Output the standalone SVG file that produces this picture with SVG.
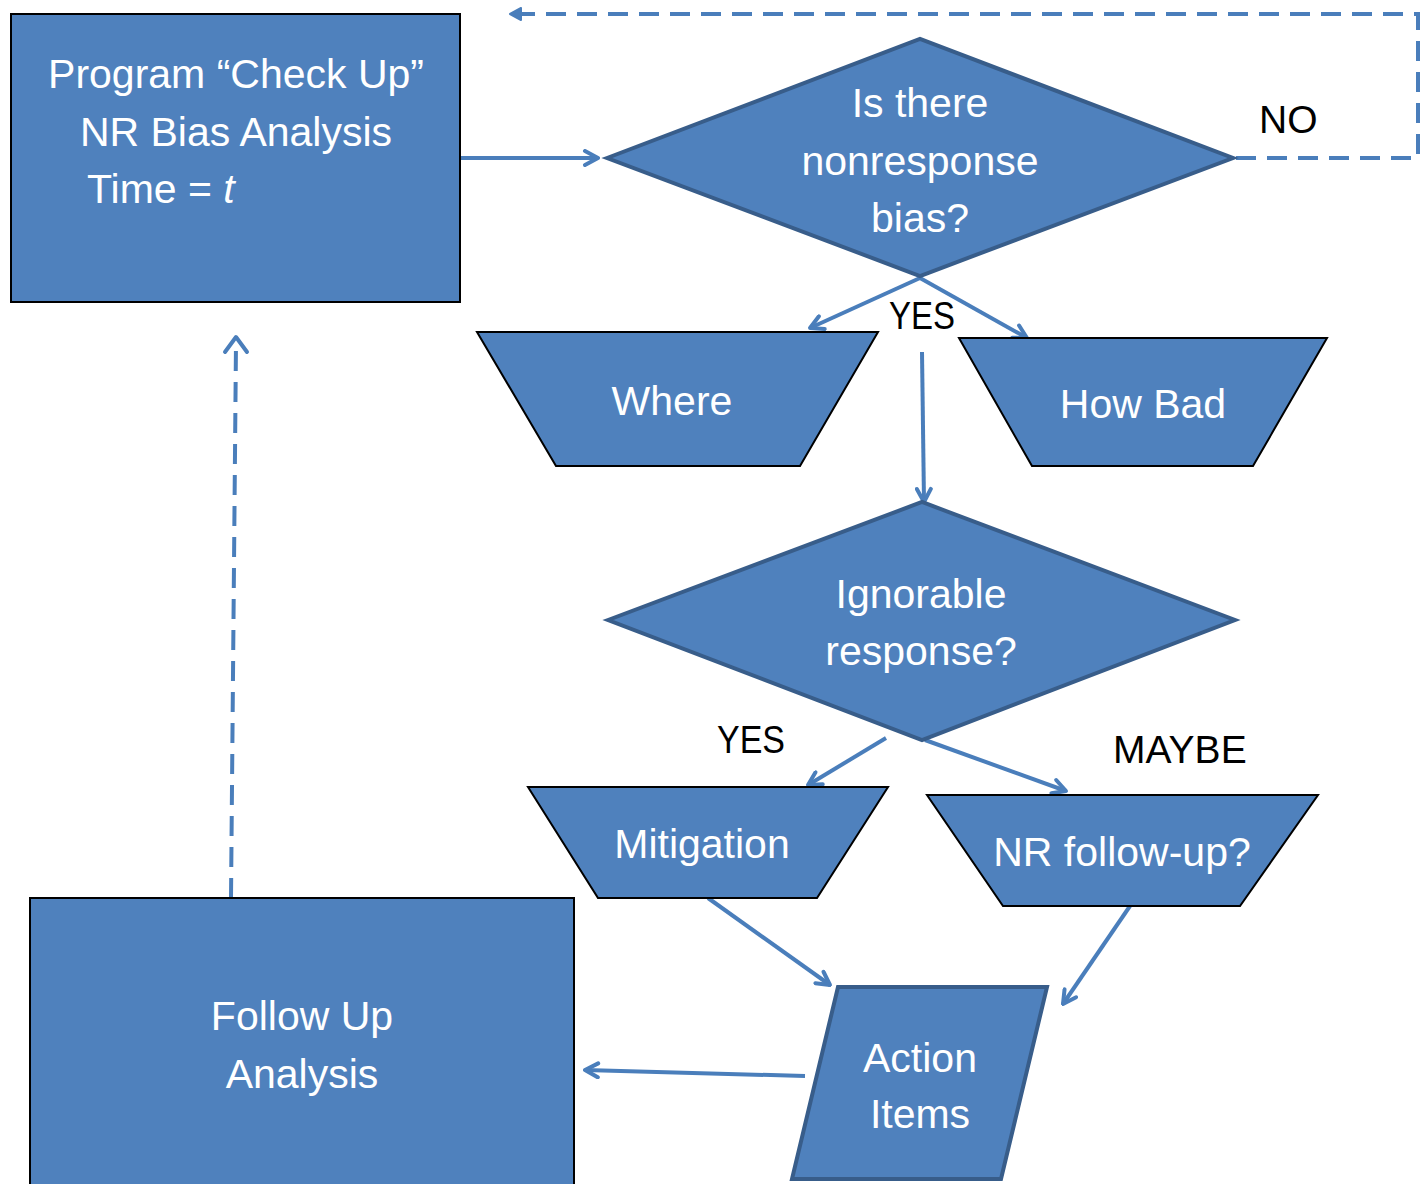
<svg xmlns="http://www.w3.org/2000/svg" width="1422" height="1184" viewBox="0 0 1422 1184">
<defs>
<marker id="ah" viewBox="0 0 18 18" refX="16" refY="9" markerWidth="18" markerHeight="18" markerUnits="userSpaceOnUse" orient="auto">
<path d="M3,2 L16,9 L3,16" fill="none" stroke="#4A7EBB" stroke-width="4" stroke-linecap="round" stroke-linejoin="round"/>
</marker>
<marker id="ahs" viewBox="0 0 14 14" refX="10" refY="7" markerWidth="14" markerHeight="14" markerUnits="userSpaceOnUse" orient="auto">
<path d="M1,1 L12,7 L1,13 Z" fill="#4A7EBB" stroke="#4A7EBB" stroke-width="2" stroke-linejoin="round"/>
</marker>
</defs>
<style>
.box{fill:#4F81BD;stroke:#000;stroke-width:2}
.dec{fill:#4F81BD;stroke:#385D8A;stroke-width:4}
.t{fill:#fff;font-family:"Liberation Sans",Arial,sans-serif;font-size:41px;text-anchor:middle}
.lbl{fill:#000;font-family:"Liberation Sans",Arial,sans-serif;font-size:39px}
.c{fill:none;stroke:#4A7EBB;stroke-width:4;marker-end:url(#ah)}
.d{fill:none;stroke:#4A7EBB;stroke-width:4;stroke-dasharray:20 11}
</style>
<rect width="1422" height="1184" fill="#fff"/>
<g id="connectors">
<path class="c" d="M460,158 L598,158"/>
<path class="d" d="M1236,158 L1418,158 L1418,14 L512,14" marker-end="url(#ahs)"/>
<path class="c" d="M920,278 L810,328"/>
<path class="c" d="M920,278 L1027,338"/>
<path class="c" d="M922,352 L924,502"/>
<path class="c" d="M886,738 L808,785"/>
<path class="c" d="M925,740 L1066,791"/>
<path class="c" d="M708,898 L830,985"/>
<path class="c" d="M1130,906 L1063,1004"/>
<path class="c" d="M805,1076 L585,1070"/>
<path class="d" d="M231,898 L236,342" stroke-dasharray="21 11"/>
<path fill="none" stroke="#4A7EBB" stroke-width="4" stroke-linecap="round" stroke-linejoin="round" d="M225,352 L236,337 L247,352"/>
</g>
<g id="node-checkup">
<rect class="box" x="11" y="14" width="449" height="288"/>
<text class="t" x="236" y="88">Program “Check Up”</text>
<text class="t" x="236" y="146">NR Bias Analysis</text>
<text class="t" x="87" y="203" style="text-anchor:start">Time = <tspan font-style="italic">t</tspan></text>
</g>
<g id="node-bias">
<polygon class="dec" points="607,158 920,39 1233,158 920,276"/>
<text class="t" x="920" y="117">Is there</text>
<text class="t" x="920" y="175">nonresponse</text>
<text class="t" x="920" y="232">bias?</text>
</g>
<g id="label-no"><text class="lbl" x="1259" y="133">NO</text></g>
<g id="label-yes1"><text class="lbl" x="889" y="329" textLength="66" lengthAdjust="spacingAndGlyphs">YES</text></g>
<g id="node-where">
<polygon class="box" points="477,332 878,332 800,466 556,466"/>
<text class="t" x="672" y="415">Where</text>
</g>
<g id="node-howbad">
<polygon class="box" points="959,338 1327,338 1253,466 1032,466"/>
<text class="t" x="1143" y="418">How Bad</text>
</g>
<g id="node-ignorable">
<polygon class="dec" points="608,620 922,502 1235,620 922,740"/>
<text class="t" x="921" y="608">Ignorable</text>
<text class="t" x="921" y="665">response?</text>
</g>
<g id="label-yes2"><text class="lbl" x="717" y="753" textLength="68" lengthAdjust="spacingAndGlyphs">YES</text></g>
<g id="label-maybe"><text class="lbl" x="1113" y="763">MAYBE</text></g>
<g id="node-mitigation">
<polygon class="box" points="528,787 888,787 817,898 598,898"/>
<text class="t" x="702" y="858">Mitigation</text>
</g>
<g id="node-nrfollow">
<polygon class="box" points="927,795 1318,795 1240,906 1003,906"/>
<text class="t" x="1122" y="866">NR follow-up?</text>
</g>
<g id="node-action">
<polygon class="dec" points="838,987 1047,987 1001,1179 792,1179"/>
<text class="t" x="920" y="1072">Action</text>
<text class="t" x="920" y="1128">Items</text>
</g>
<g id="node-followup">
<rect class="box" x="30" y="898" width="544" height="300"/>
<text class="t" x="302" y="1030">Follow Up</text>
<text class="t" x="302" y="1088">Analysis</text>
</g>
</svg>
